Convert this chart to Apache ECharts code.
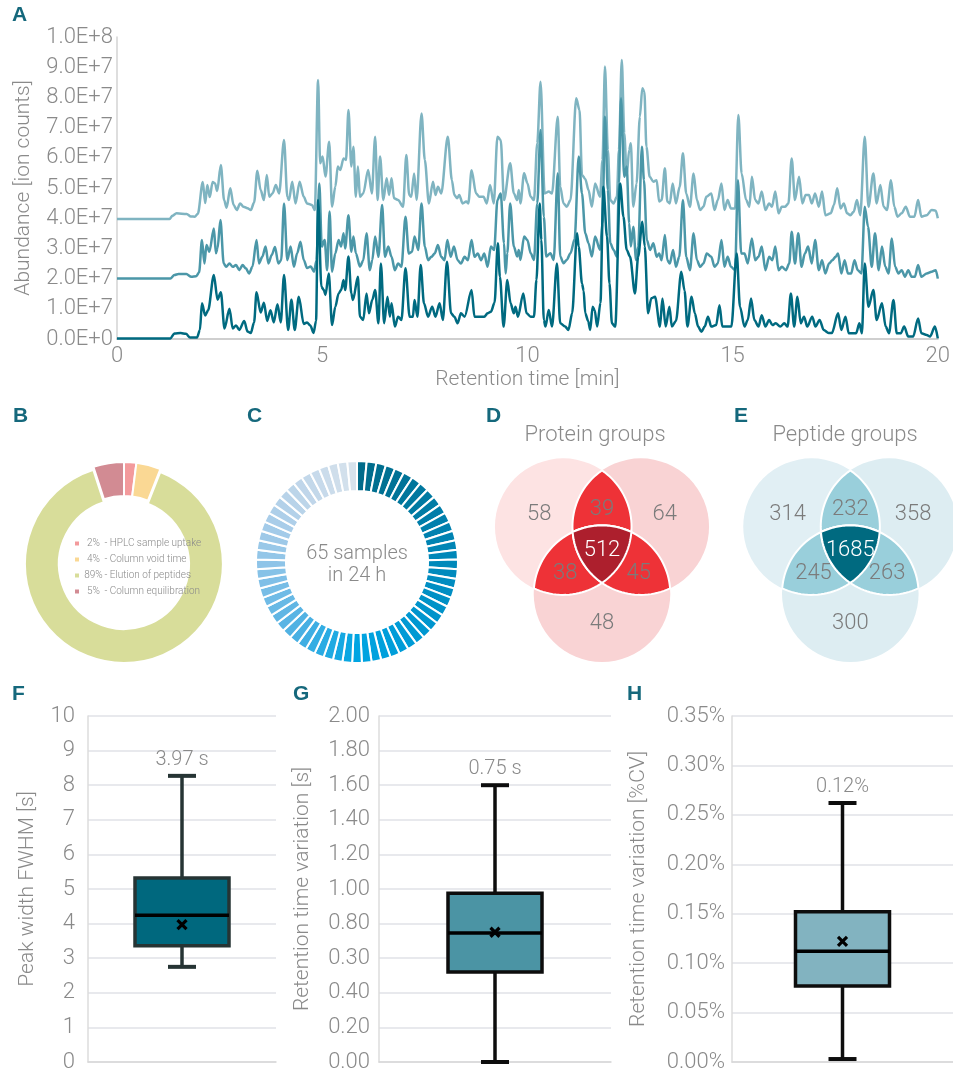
<!DOCTYPE html>
<html>
<head>
<meta charset="utf-8">
<title>LC-MS performance overview</title>
<script src="https://cdn.jsdelivr.net/npm/echarts@6/dist/echarts.min.js"></script>
<style>
  html, body { margin: 0; padding: 0; background: #fff; }
  #main { width: 953px; height: 1074px; }
</style>
</head>
<body>
<div id="main"></div>
<script>
const FONT = "Roboto, 'Liberation Sans', sans-serif";
const LIGHT = 300;
const GREY = '#8a8a8a';
const TEAL = '#15687c';

// ---- A: base peak chromatograms (abundance in 1E7 ion counts, time in min) ----
const abundanceTicks = ['0.0E+0', '1.0E+7', '2.0E+7', '3.0E+7', '4.0E+7', '5.0E+7',
  '6.0E+7', '7.0E+7', '8.0E+7', '9.0E+7', '1.0E+8'];

// replicate plotted at +4E7
const runTop = [[0,3.97],[1.28,3.97],[1.35,4.08],[1.45,4.16],[1.7,4.14],[1.8,4.06],[1.9,4.05],[1.97,4.15],
  [2.09,5.2],[2.15,4.5],[2.2,5.1],[2.26,4.7],[2.33,5.2],[2.39,5.15],[2.44,4.9],[2.53,5.76],[2.61,4.6],[2.67,4.35],
  [2.76,4.99],[2.84,4.44],[2.92,4.27],[3.0,4.49],[3.08,4.38],[3.18,4.33],[3.26,4.27],[3.34,4.52],[3.42,5.57],
  [3.5,4.93],[3.58,4.6],[3.65,5.43],[3.71,4.71],[3.79,4.82],[3.87,5.1],[3.95,4.82],[4.07,6.59],[4.15,4.71],
  [4.19,4.6],[4.27,5.21],[4.35,4.49],[4.45,5.21],[4.55,4.71],[4.63,4.49],[4.75,4.44],[4.82,4.27],[4.9,8.58],
  [4.95,5.82],[5.01,6.04],[5.08,5.38],[5.17,6.53],[5.24,4.38],[5.32,5.05],[5.38,5.71],[5.44,5.6],[5.52,5.98],
  [5.58,5.93],[5.64,7.58],[5.71,5.71],[5.76,6.37],[5.82,4.71],[5.87,5.71],[5.92,4.71],[6.0,4.82],[6.12,5.6],
  [6.21,4.82],[6.29,6.7],[6.35,4.6],[6.41,6.04],[6.49,4.6],[6.57,5.32],[6.63,4.77],[6.69,5.32],[6.75,4.66],
  [6.85,4.6],[6.97,4.38],[7.05,6.09],[7.12,4.77],[7.17,4.71],[7.24,5.48],[7.3,4.6],[7.42,7.47],[7.5,5.93],
  [7.6,4.49],[7.7,5.21],[7.76,4.77],[7.82,5.04],[7.9,4.82],[8.06,6.7],[8.16,5.26],[8.22,4.77],[8.29,4.66],
  [8.34,4.77],[8.42,4.49],[8.51,4.55],[8.56,4.49],[8.64,5.59],[8.75,4.82],[8.83,4.71],[8.93,4.71],[9.01,4.49],
  [9.09,5.1],[9.18,4.49],[9.27,6.7],[9.35,6.59],[9.43,4.6],[9.58,5.82],[9.67,4.82],[9.75,4.6],[9.79,4.93],
  [9.83,4.49],[9.92,5.49],[10.0,5.16],[10.08,4.71],[10.16,4.6],[10.24,6.48],[10.32,8.52],[10.42,4.82],
  [10.52,4.88],[10.6,4.82],[10.74,7.36],[10.8,5.04],[10.88,4.49],[10.96,4.38],[11.05,4.6],[11.19,7.97],
  [11.27,7.58],[11.33,5.43],[11.41,5.3],[11.49,4.93],[11.57,4.38],[11.65,5.15],[11.77,4.71],[11.83,5.93],
  [11.89,9.02],[11.96,6.26],[12.02,4.6],[12.1,4.49],[12.18,4.71],[12.23,6.26],[12.3,9.24],[12.36,6.81],
  [12.42,5.43],[12.48,6.26],[12.52,6.48],[12.58,4.38],[12.66,5.15],[12.74,7.36],[12.8,8.3],[12.85,8.19],
  [12.9,6.37],[12.98,5.37],[13.07,5.21],[13.15,5.26],[13.21,4.55],[13.27,4.6],[13.35,5.65],[13.41,4.55],
  [13.47,4.49],[13.54,5.15],[13.62,4.49],[13.71,5.04],[13.79,6.15],[13.87,4.82],[13.96,4.38],[14.05,5.48],
  [14.13,4.6],[14.21,4.27],[14.29,4.38],[14.36,4.71],[14.48,4.82],[14.56,4.27],[14.64,4.6],[14.73,5.15],
  [14.8,4.27],[14.88,4.6],[14.96,4.32],[15.06,4.32],[15.14,7.42],[15.22,5.48],[15.33,4.6],[15.41,4.38],
  [15.47,5.37],[15.55,4.6],[15.63,4.49],[15.71,4.88],[15.8,4.27],[15.89,4.49],[15.96,4.38],[16.04,4.88],
  [16.12,4.16],[16.2,4.38],[16.28,4.38],[16.36,4.49],[16.44,5.98],[16.52,4.6],[16.62,5.37],[16.7,4.49],
  [16.78,4.77],[16.86,4.77],[16.93,4.49],[17.01,4.82],[17.1,4.38],[17.18,4.88],[17.26,4.1],[17.39,4.16],
  [17.47,4.44],[17.55,4.99],[17.63,4.32],[17.71,4.49],[17.79,4.16],[17.87,4.1],[17.95,4.21],[18.03,4.6],
  [18.11,4.1],[18.22,6.7],[18.31,4.38],[18.43,5.48],[18.51,4.49],[18.6,5.1],[18.68,4.38],[18.76,4.27],
  [18.86,5.26],[18.94,4.38],[19.02,4.05],[19.12,4.16],[19.22,4.38],[19.32,4.05],[19.43,4.05],[19.52,4.6],
  [19.6,4.05],[19.73,4.1],[19.85,4.27],[19.95,4.25],[20,4.0]];

// replicate plotted at +2E7
const runMid = [[0,2.0],[1.3,2.0],[1.4,2.12],[1.5,2.15],[1.69,2.15],[1.81,2.06],[1.93,2.08],[2.0,2.2],
  [2.07,3.28],[2.13,2.5],[2.18,3.11],[2.25,2.89],[2.36,3.66],[2.41,2.84],[2.45,3.0],[2.52,3.94],[2.6,2.5],
  [2.66,2.39],[2.74,2.5],[2.82,2.39],[2.9,2.45],[2.98,2.28],[3.06,2.45],[3.14,2.34],[3.22,2.17],[3.3,2.39],
  [3.4,3.28],[3.46,2.5],[3.54,2.72],[3.62,3.06],[3.69,2.5],[3.77,2.78],[3.85,3.05],[3.93,2.5],[4.0,2.61],
  [4.07,4.49],[4.15,2.61],[4.23,3.06],[4.31,2.39],[4.39,2.84],[4.47,3.22],[4.55,2.62],[4.63,2.35],[4.72,2.4],
  [4.8,2.23],[4.86,2.6],[4.93,5.15],[4.99,3.06],[5.06,3.28],[5.12,2.28],[5.18,4.22],[5.24,2.23],[5.32,2.84],
  [5.4,3.28],[5.46,3.06],[5.52,3.5],[5.56,3.0],[5.64,4.1],[5.71,2.89],[5.76,3.39],[5.82,2.84],[5.92,2.4],
  [6.0,2.6],[6.08,3.5],[6.16,2.28],[6.22,2.61],[6.29,3.39],[6.37,2.72],[6.46,4.44],[6.53,2.72],[6.61,3.06],
  [6.69,2.72],[6.77,2.28],[6.85,2.5],[6.93,2.39],[7.03,4.05],[7.11,2.83],[7.19,2.89],[7.25,3.39],[7.34,2.95],
  [7.42,4.49],[7.5,3.06],[7.58,2.61],[7.66,2.72],[7.74,2.83],[7.82,3.11],[7.9,2.72],[7.98,2.61],[8.05,3.28],
  [8.13,2.72],[8.21,3.06],[8.3,2.61],[8.38,2.5],[8.47,2.72],[8.55,2.61],[8.64,3.28],[8.71,2.72],[8.79,2.83],
  [8.87,2.61],[8.95,2.83],[9.03,2.39],[9.11,3.06],[9.19,2.95],[9.27,4.6],[9.35,4.82],[9.43,3.17],[9.47,2.17],
  [9.51,2.84],[9.58,4.49],[9.67,3.06],[9.75,2.73],[9.79,2.95],[9.83,2.62],[9.92,3.39],[10.0,3.28],[10.08,2.84],
  [10.16,2.62],[10.24,4.49],[10.32,6.92],[10.4,4.05],[10.46,2.73],[10.56,2.84],[10.64,2.62],[10.74,5.49],
  [10.8,2.73],[10.88,2.51],[10.96,2.62],[11.05,2.84],[11.15,3.3],[11.25,6.04],[11.33,4.82],[11.41,3.5],
  [11.49,3.17],[11.57,2.73],[11.65,3.39],[11.77,2.95],[11.83,3.83],[11.89,7.36],[11.96,4.93],[12.02,3.17],
  [12.1,2.95],[12.18,2.73],[12.23,5.15],[12.28,7.97],[12.36,5.37],[12.42,5.71],[12.48,3.83],[12.52,3.06],
  [12.58,3.72],[12.65,2.61],[12.7,3.06],[12.79,6.37],[12.84,5.26],[12.91,3.28],[12.99,2.95],[13.07,3.17],
  [13.15,2.72],[13.21,2.83],[13.27,2.61],[13.35,3.44],[13.41,2.61],[13.47,2.5],[13.55,2.95],[13.62,2.39],
  [13.7,2.72],[13.79,4.6],[13.87,2.72],[13.96,2.28],[14.05,3.5],[14.13,2.61],[14.21,2.39],[14.29,2.5],
  [14.37,2.83],[14.48,2.72],[14.56,2.39],[14.64,2.5],[14.73,3.28],[14.8,2.39],[14.88,2.72],[14.96,2.39],
  [15.06,2.28],[15.13,5.26],[15.21,2.83],[15.29,2.83],[15.37,2.5],[15.47,3.33],[15.55,2.61],[15.63,2.72],
  [15.71,3.06],[15.8,2.28],[15.89,2.72],[15.97,2.61],[16.04,3.06],[16.12,2.28],[16.2,2.39],[16.3,2.28],
  [16.38,2.5],[16.44,3.55],[16.52,2.5],[16.6,3.5],[16.68,2.39],[16.76,2.83],[16.84,3.06],[16.93,2.5],
  [17.01,3.28],[17.1,2.28],[17.18,2.61],[17.26,2.17],[17.35,2.5],[17.43,2.61],[17.51,2.72],[17.57,2.83],
  [17.65,2.17],[17.73,2.61],[17.81,2.17],[17.89,2.17],[17.97,2.61],[18.05,2.28],[18.14,2.17],[18.22,4.38],
  [18.3,3.72],[18.39,2.39],[18.47,3.5],[18.56,2.28],[18.64,3.06],[18.72,2.39],[18.8,2.17],[18.88,3.33],
  [18.96,2.39],[19.04,2.17],[19.12,2.28],[19.2,2.06],[19.28,2.28],[19.36,2.06],[19.44,2.06],[19.52,2.45],
  [19.6,2.06],[19.73,2.17],[19.85,2.23],[19.95,2.28],[20,2.0]];

// replicate plotted at 0
const runLow = [[0,0.02],[1.3,0.02],[1.4,0.18],[1.55,0.2],[1.68,0.17],[1.78,0.05],[1.95,0.05],[2.02,0.3],
  [2.07,1.18],[2.15,0.78],[2.22,0.95],[2.36,2.12],[2.45,1.3],[2.53,1.55],[2.62,0.35],[2.74,1.0],[2.82,0.35],
  [2.9,0.45],[2.98,0.3],[3.1,0.6],[3.18,0.25],[3.26,0.2],[3.34,0.55],[3.4,1.55],[3.5,0.88],[3.58,1.2],
  [3.66,0.6],[3.74,0.95],[3.82,0.55],[3.91,1.15],[3.99,0.55],[4.07,2.12],[4.17,0.3],[4.25,1.3],[4.33,0.3],
  [4.43,1.4],[4.55,0.5],[4.63,0.55],[4.71,0.45],[4.79,0.2],[4.85,0.6],[4.9,4.6],[4.98,1.73],[5.04,1.62],
  [5.08,1.46],[5.16,2.17],[5.24,0.46],[5.32,1.07],[5.4,1.51],[5.46,1.62],[5.52,1.95],[5.56,1.62],[5.64,2.73],
  [5.71,1.51],[5.75,1.29],[5.87,2.06],[5.92,0.74],[6.0,0.63],[6.08,1.51],[6.14,0.85],[6.22,1.3],[6.29,1.62],
  [6.37,0.52],[6.43,2.5],[6.51,0.52],[6.59,1.4],[6.65,0.74],[6.69,1.18],[6.77,0.41],[6.85,0.74],[6.93,0.63],
  [7.03,2.34],[7.13,0.74],[7.21,0.74],[7.25,1.29],[7.32,0.74],[7.4,2.45],[7.48,1.18],[7.58,0.74],[7.68,1.07],
  [7.76,0.74],[7.86,1.18],[7.94,0.63],[8.04,2.56],[8.14,0.85],[8.22,0.74],[8.3,0.52],[8.38,0.85],[8.47,0.74],
  [8.64,1.62],[8.71,0.74],[8.83,0.74],[8.95,0.74],[9.03,0.85],[9.11,0.9],[9.2,1.2],[9.28,3.17],[9.33,2.06],
  [9.42,0.41],[9.51,1.95],[9.59,1.18],[9.67,0.85],[9.71,1.07],[9.77,0.74],[9.9,1.51],[9.98,0.85],[10.08,0.74],
  [10.16,0.74],[10.22,1.95],[10.3,4.49],[10.34,3.28],[10.4,0.63],[10.44,0.41],[10.52,0.96],[10.6,0.41],
  [10.72,2.5],[10.8,0.52],[10.92,0.41],[11.0,0.3],[11.09,0.85],[11.21,3.5],[11.25,3.06],[11.33,1.84],
  [11.37,1.6],[11.41,0.85],[11.48,0.6],[11.53,0.3],[11.59,1.07],[11.64,0.95],[11.7,0.41],[11.78,1.2],
  [11.85,5.04],[11.94,3.39],[12.0,1.84],[12.06,0.52],[12.14,0.41],[12.26,5.15],[12.34,4.05],[12.42,2.95],
  [12.5,2.73],[12.62,1.51],[12.7,2.73],[12.8,3.88],[12.86,3.06],[12.94,0.85],[13.02,1.35],[13.11,1.4],
  [13.23,0.41],[13.29,1.34],[13.37,0.41],[13.46,1.07],[13.52,0.41],[13.62,0.6],[13.75,2.23],[13.83,1.6],
  [13.9,0.41],[14.0,1.4],[14.08,0.85],[14.16,0.41],[14.24,0.24],[14.32,0.41],[14.4,0.74],[14.48,0.41],
  [14.6,0.46],[14.68,1.12],[14.75,0.41],[14.85,0.41],[14.97,0.41],[15.1,2.83],[15.18,1.07],[15.29,0.41],
  [15.37,0.63],[15.45,1.34],[15.53,0.63],[15.63,0.41],[15.71,0.79],[15.8,0.41],[15.89,0.63],[15.97,0.46],
  [16.05,0.52],[16.16,0.41],[16.26,0.52],[16.34,0.41],[16.42,1.51],[16.5,0.41],[16.58,1.4],[16.66,0.52],
  [16.74,0.74],[16.82,0.41],[16.94,0.74],[17.02,0.41],[17.12,0.63],[17.22,0.3],[17.34,0.2],[17.42,0.2],
  [17.57,0.85],[17.65,0.3],[17.75,0.74],[17.83,0.19],[17.93,0.19],[18.01,0.19],[18.09,0.52],[18.15,0.19],
  [18.22,2.5],[18.31,1.07],[18.43,1.62],[18.51,0.63],[18.64,1.18],[18.73,0.41],[18.81,0.19],[18.92,1.29],
  [19.0,0.19],[19.1,0.19],[19.18,0.41],[19.28,0.08],[19.4,0.08],[19.52,0.68],[19.6,0.19],[19.73,0.13],
  [19.81,0.08],[19.93,0.41],[20,0.02]];

// ---- B: gradient time split ----
const gradientPhases = ['HPLC sample uptake', 'Column void time', 'Elution of peptides', 'Column equilibration'];
const gradientShares = [2, 4, 89, 5];

// ---- C: one slot per injection in 24 h ----
const sampleSlots = [1,1,1,1,1,1,1,1,1,1,1,1,1,1,1,1,1,1,1,1,1,1,1,1,1,1,1,1,1,1,1,1,1,
  1,1,1,1,1,1,1,1,1,1,1,1,1,1,1,1,1,1,1,1,1,1,1,1,1,1,1,1,1,1,1,1];

// ---- D/E: overlap of three replicates ----
const vennRegions = ['A', 'B', 'C', 'AB', 'AC', 'BC', 'ABC'];
const proteinGroups = [58, 64, 48, 39, 38, 45, 512];
const peptideGroups = [314, 358, 300, 232, 245, 263, 1685];

// ---- F/G/H: [min, Q1, median, Q3, max, mean] ----
const peakWidth = [2.75, 3.36, 4.24, 5.32, 8.27, 3.97];
const rtVariation = [0.0, 0.52, 0.745, 0.975, 1.6, 0.75];
const rtCV = [0.003, 0.077, 0.112, 0.152, 0.262, 0.122];
const peakWidthTicks = ['0', '1', '2', '3', '4', '5', '6', '7', '8', '9', '10'];
const rtVariationTicks = ['0.00', '0.20', '0.40', '0.30', '0.80', '1.00', '1.20', '1.40', '1.60', '1.80', '2.00'];
const rtCVTicks = ['0.00%', '0.05%', '0.10%', '0.15%', '0.20%', '0.25%', '0.30%', '0.35%'];

// colour ramp for the sample ring
const ringStops = [[0, '#006b8a'], [0.22, '#0085b5'], [0.4, '#009ad5'], [0.5, '#00a5e2'],
  [0.62, '#4fb1e3'], [0.75, '#8ec4e8'], [0.87, '#b7d2e9'], [1, '#d6e2ec']];

function hex2rgb(h) { return [1, 3, 5].map(i => parseInt(h.substr(i, 2), 16)); }
function ringColor(t) {
  for (let i = 1; i < ringStops.length; i++) {
    if (t <= ringStops[i][0]) {
      const [t0, c0] = ringStops[i - 1], [t1, c1] = ringStops[i];
      const f = (t - t0) / (t1 - t0), a = hex2rgb(c0), b = hex2rgb(c1);
      return 'rgb(' + a.map((v, k) => Math.round(v + (b[k] - v) * f)).join(',') + ')';
    }
  }
  return ringStops[ringStops.length - 1][1];
}

// ---- venn geometry ----
function circleHits(p, q, R) {
  const dx = q[0] - p[0], dy = q[1] - p[1], d = Math.hypot(dx, dy);
  const h = Math.sqrt(R * R - d * d / 4), mx = p[0] + dx / 2, my = p[1] + dy / 2;
  return [[mx - dy / d * h, my + dx / d * h], [mx + dy / d * h, my - dx / d * h]];
}
function closest(pts, t) {
  return Math.hypot(pts[0][0] - t[0], pts[0][1] - t[1]) < Math.hypot(pts[1][0] - t[0], pts[1][1] - t[1]) ? pts[0] : pts[1];
}
function arcPts(c, R, from, to) {
  const a1 = Math.atan2(from[1] - c[1], from[0] - c[0]);
  let da = Math.atan2(to[1] - c[1], to[0] - c[0]) - a1;
  while (da > Math.PI) da -= 2 * Math.PI;
  while (da < -Math.PI) da += 2 * Math.PI;
  const out = [];
  for (let i = 0; i <= 40; i++) {
    const a = a1 + da * i / 40;
    out.push([c[0] + R * Math.cos(a), c[1] + R * Math.sin(a)]);
  }
  return out;
}

function vennSeries(counts, cx, cy, singles, pairColor, tripleColor) {
  const R = 68.3, d = 77.5, h = d / (2 * Math.sqrt(3));
  const cen = { A: [cx - d / 2, cy - h], B: [cx + d / 2, cy - h], C: [cx, cy + 2 * h] };
  const txt = (text, p, white) => ({
    type: 'text',
    style: { text: text, x: p[0], y: p[1], align: 'center', verticalAlign: 'middle',
      fill: white ? '#fff' : '#7b7b7b', fontSize: 22, fontWeight: LIGHT, fontFamily: FONT }
  });
  return {
    type: 'custom',
    coordinateSystem: 'none',
    silent: true,
    data: counts.map((v, i) => ({ name: vennRegions[i], value: v })),
    renderItem: function (params, api) {
      const key = vennRegions[params.dataIndex];
      const val = String(api.value(0));
      if (key.length === 1) {
        const c = cen[key];
        const lp = [cx + (c[0] - cx) * 1.62, cy + (c[1] - cy) * 1.62 + 2];
        return { type: 'group', children: [
          { type: 'circle', shape: { cx: c[0], cy: c[1], r: R }, style: { fill: singles[params.dataIndex] } },
          txt(val, lp, false)
        ] };
      }
      if (key.length === 2) {
        const p = cen[key[0]], q = cen[key[1]];
        const other = cen['ABC'.replace(key[0], '').replace(key[1], '')];
        const [h1, h2] = circleHits(p, q, R);
        const pts = arcPts(p, R, h1, h2).concat(arcPts(q, R, h2, h1));
        const lp = [cx - (other[0] - cx) * 0.95, cy - (other[1] - cy) * 0.95 + 3];
        return { type: 'group', children: [
          { type: 'polygon', shape: { points: pts }, style: { fill: pairColor, stroke: '#fff', lineWidth: 2 } },
          txt(val, lp, false)
        ] };
      }
      const A = cen.A, B = cen.B, C = cen.C;
      const pAB = closest(circleHits(A, B, R), C);
      const pAC = closest(circleHits(A, C, R), B);
      const pBC = closest(circleHits(B, C, R), A);
      const pts = arcPts(A, R, pAB, pAC).concat(arcPts(C, R, pAC, pBC), arcPts(B, R, pBC, pAB));
      return { type: 'group', children: [
        { type: 'polygon', shape: { points: pts }, style: { fill: tripleColor, stroke: '#fff', lineWidth: 2 } },
        txt(val, [cx, cy + 1], true)
      ] };
    }
  };
}

// ---- box plots ----
function boxSeries(idx, stats, fill, border, unit) {
  return {
    type: 'custom',
    xAxisIndex: idx,
    yAxisIndex: idx,
    silent: true,
    data: [[0].concat(stats)],
    encode: { x: 0, y: [1, 2, 3, 4, 5, 6] },
    renderItem: function (params, api) {
      const at = k => api.coord([api.value(0), api.value(k)]);
      const lo = at(1), q1 = at(2), med = at(3), q3 = at(4), hi = at(5), mean = at(6);
      const x = lo[0], half = 47, cap = 14, m = 4.5;
      const label = api.value(6).toFixed(2) + unit;
      return { type: 'group', children: [
        { type: 'line', shape: { x1: x, y1: hi[1], x2: x, y2: lo[1] }, style: { stroke: border, lineWidth: 3.5 } },
        { type: 'line', shape: { x1: x - cap, y1: hi[1], x2: x + cap, y2: hi[1] }, style: { stroke: border, lineWidth: 4 } },
        { type: 'line', shape: { x1: x - cap, y1: lo[1], x2: x + cap, y2: lo[1] }, style: { stroke: border, lineWidth: 4 } },
        { type: 'rect', shape: { x: x - half, y: q3[1], width: 2 * half, height: q1[1] - q3[1] },
          style: { fill: fill, stroke: border, lineWidth: 3.5 } },
        { type: 'line', shape: { x1: x - half, y1: med[1], x2: x + half, y2: med[1] }, style: { stroke: '#000', lineWidth: 3.5 } },
        { type: 'line', shape: { x1: x - m, y1: mean[1] - m, x2: x + m, y2: mean[1] + m }, style: { stroke: '#000', lineWidth: 3.2 } },
        { type: 'line', shape: { x1: x - m, y1: mean[1] + m, x2: x + m, y2: mean[1] - m }, style: { stroke: '#000', lineWidth: 3.2 } },
        { type: 'text', style: { text: label, x: x, y: hi[1] - 6, align: 'center', verticalAlign: 'bottom',
          fill: GREY, fontSize: 20, fontWeight: LIGHT, fontFamily: FONT } }
      ] };
    }
  };
}

function boxYAxis(idx, max, step, ticks, name, margin, gap) {
  return {
    gridIndex: idx, type: 'value', min: 0, max: max, interval: step,
    axisLine: { show: true, lineStyle: { color: '#dcdcdc', width: 1.5 } },
    axisTick: { show: false },
    splitLine: { lineStyle: { color: '#e1e2e7', width: 1.5 } },
    axisLabel: { fontSize: 22, fontWeight: LIGHT, color: GREY, margin: margin,
      formatter: v => ticks[Math.round(v / step)] },
    name: name, nameLocation: 'middle', nameGap: gap,
    nameTextStyle: { fontSize: 21, fontWeight: LIGHT, color: GREY }
  };
}
function boxXAxis(idx) {
  return {
    gridIndex: idx, type: 'category', data: [''],
    axisLine: { lineStyle: { color: '#d8d8d8', width: 1.5 } },
    axisTick: { show: false }, axisLabel: { show: false }
  };
}

const letter = (t, x, y) => ({ text: t, left: x, top: y, padding: 0,
  textStyle: { fontSize: 21, fontWeight: 'bold', color: TEAL, fontFamily: "'Liberation Sans', Arial, sans-serif" } });
const plainTitle = (t, x, y, size, lh) => ({ text: t, left: x, top: y, padding: 0, textAlign: 'center',
  textStyle: { fontSize: size, lineHeight: lh, fontWeight: LIGHT, color: GREY } });

const chart = echarts.init(document.getElementById('main'), null, { renderer: 'canvas' });
chart.setOption({
  animation: false,
  textStyle: { fontFamily: FONT },
  title: [
    letter('A', 12, 5), letter('B', 13, 406), letter('C', 247, 406), letter('D', 486, 406),
    letter('E', 734, 406), letter('F', 12, 684), letter('G', 293, 684), letter('H', 627, 684),
    plainTitle('Protein groups', 595, 422, 22, 26),
    plainTitle('Peptide groups', 845, 422, 22, 26),
    plainTitle(sampleSlots.length + ' samples\nin 24 h', 357, 543, 20, 22)
  ],
  legend: {
    data: gradientPhases,
    orient: 'vertical', left: 68, top: 532,
    icon: 'rect', itemWidth: 6, itemHeight: 6, itemGap: 3,
    selectedMode: false,
    formatter: name => '{p|' + gradientShares[gradientPhases.indexOf(name)] + '%} - ' + name,
    textStyle: { fontSize: 10, fontWeight: LIGHT, color: GREY, lineHeight: 13,
      rich: { p: { width: 17, align: 'right', fontSize: 10, fontWeight: LIGHT, color: GREY } } }
  },
  grid: [
    { left: 117, top: 37, width: 826, height: 302 },
    { left: 88, top: 716, width: 188, height: 346 },
    { left: 379, top: 716, width: 232, height: 346 },
    { left: 732, top: 716, width: 221, height: 346 }
  ],
  xAxis: [
    { gridIndex: 0, type: 'value', min: 0, max: 20, interval: 5,
      axisLine: { lineStyle: { color: '#cfcfcf', width: 2 } }, axisTick: { show: false }, splitLine: { show: false },
      axisLabel: { fontSize: 22, fontWeight: LIGHT, color: GREY, margin: 6 },
      name: 'Retention time [min]', nameLocation: 'middle', nameGap: 30,
      nameTextStyle: { fontSize: 21, fontWeight: LIGHT, color: GREY } },
    boxXAxis(1), boxXAxis(2), boxXAxis(3)
  ],
  yAxis: [
    { gridIndex: 0, type: 'value', min: 0, max: 10, interval: 1,
      axisLine: { show: true, lineStyle: { color: '#d3d3d3', width: 1.5 } }, axisTick: { show: false },
      splitLine: { show: false },
      axisLabel: { fontSize: 22, fontWeight: LIGHT, color: GREY, margin: 4,
        formatter: v => abundanceTicks[Math.round(v)] },
      name: 'Abundance [ion counts]', nameLocation: 'middle', nameGap: 83,
      nameTextStyle: { fontSize: 21, fontWeight: LIGHT, color: GREY } },
    boxYAxis(1, 10, 1, peakWidthTicks, 'Peak width FWHM [s]', 13, 50),
    boxYAxis(2, 2, 0.2, rtVariationTicks, 'Retention time variation [s]', 9, 66),
    boxYAxis(3, 0.35, 0.05, rtCVTicks, 'Retention time variation [%CV]', 7, 83)
  ],
  series: [
    { type: 'line', xAxisIndex: 0, yAxisIndex: 0, data: runTop, showSymbol: false, smooth: 0.3,
      smoothMonotone: 'x', lineStyle: { color: '#7fb4c1', width: 2.5 }, itemStyle: { color: '#7fb4c1' }, silent: true },
    { type: 'line', xAxisIndex: 0, yAxisIndex: 0, data: runMid, showSymbol: false, smooth: 0.3,
      smoothMonotone: 'x', lineStyle: { color: '#4b97a8', width: 2.5 }, itemStyle: { color: '#4b97a8' }, silent: true },
    { type: 'line', xAxisIndex: 0, yAxisIndex: 0, data: runLow, showSymbol: false, smooth: 0.3,
      smoothMonotone: 'x', lineStyle: { color: '#006a80', width: 2.5 }, itemStyle: { color: '#006a80' }, silent: true },
    {
      type: 'pie', center: [124, 561], radius: [65, 99], startAngle: 90, clockwise: true,
      label: { show: false }, labelLine: { show: false }, silent: true,
      selectedMode: 'single', selectedOffset: 3,
      itemStyle: { borderColor: '#fff', borderWidth: 2 },
      data: gradientPhases.map((n, i) => ({
        name: n, value: gradientShares[i], selected: i === 2,
        itemStyle: { color: ['#f39a9c', '#fad894', '#d8dd9a', '#d28b93'][i] }
      }))
    },
    {
      type: 'pie', center: [357, 562], radius: [71, 101], startAngle: 90, clockwise: true,
      label: { show: false }, labelLine: { show: false }, silent: true,
      itemStyle: { borderColor: '#fff', borderWidth: 2 },
      data: sampleSlots.map((v, i) => ({ value: v, itemStyle: { color: ringColor(i / (sampleSlots.length - 1)) } }))
    },
    vennSeries(proteinGroups, 602, 549, ['#fde3e3', '#f9d3d4', '#f9d3d4'], '#ee3237', '#ad1f2d'),
    vennSeries(peptideGroups, 850.3, 549, ['#e1eff4', '#ddedf2', '#ddedf2'], '#99cfdb', '#006a80'),
    boxSeries(1, peakWidth, '#00687e', '#263434', ' s'),
    boxSeries(2, rtVariation, '#4b94a4', '#0d0d0d', ' s'),
    boxSeries(3, rtCV, '#82b3c0', '#0d0d0d', '%')
  ]
});
</script>
</body>
</html>
